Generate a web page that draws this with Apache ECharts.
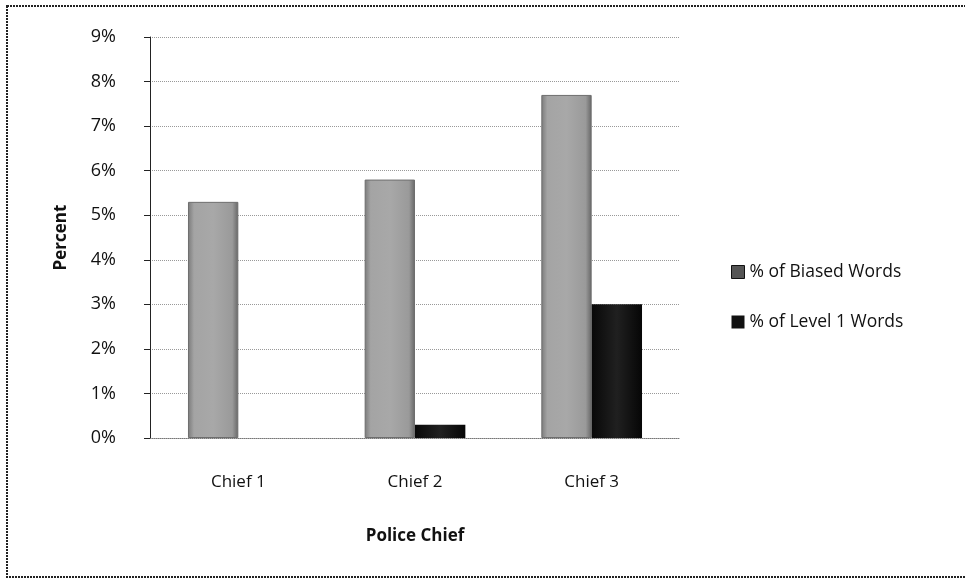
<!DOCTYPE html>
<html>
<head>
<meta charset="utf-8">
<script src="https://cdn.jsdelivr.net/npm/echarts@6/dist/echarts.min.js"></script>
<style>
html,body{margin:0;padding:0;background:#fff;}
#chart{width:965px;height:579px;}
</style>
</head>
<body>
<div id="chart"></div>
<script>
// Chart data
const categories = ['Chief 1', 'Chief 2', 'Chief 3'];
const biasedWords = [5.3, 5.8, 7.7];
const level1Words = [0, 0.3, 3.0];
const seriesNames = ['% of Biased Words', '% of Level 1 Words'];
const yTicks = [0, 1, 2, 3, 4, 5, 6, 7, 8, 9];

const FONT = 'Open Sans';

const grayFill = new echarts.graphic.LinearGradient(0, 0, 1, 0, [
  { offset: 0, color: '#7a7a7a' },
  { offset: 0.12, color: '#a4a4a4' },
  { offset: 0.5, color: '#a8a8a8' },
  { offset: 0.88, color: '#9a9a9a' },
  { offset: 1, color: '#666' }
]);
const darkFill = new echarts.graphic.LinearGradient(0, 0, 1, 0, [
  { offset: 0, color: '#080808' },
  { offset: 0.5, color: '#202020' },
  { offset: 1, color: '#060606' }
]);

const chart = echarts.init(document.getElementById('chart'), null, { renderer: 'canvas' });
chart.setOption({
  backgroundColor: '#fff',
  animation: false,
  textStyle: { fontFamily: FONT },
  graphic: [{
    type: 'rect',
    shape: { x: 7, y: 6, width: 975, height: 571 },
    style: { fill: 'none', stroke: '#222', lineWidth: 2, lineDash: [2, 1] },
    silent: true
  }],
  grid: { left: 150, right: 285, top: 37, bottom: 141 },
  legend: {
    orient: 'vertical',
    left: 726,
    top: 258,
    itemGap: 32,
    itemWidth: 13,
    itemHeight: 13,
    icon: 'rect',
    textStyle: { fontFamily: FONT, fontSize: 17.5, color: '#111' },
    data: [
      { name: seriesNames[0], itemStyle: { color: '#555', borderColor: '#111', borderWidth: 1 } },
      { name: seriesNames[1], itemStyle: { color: '#111' } }
    ]
  },
  xAxis: {
    type: 'category',
    data: categories,
    name: 'Police Chief',
    nameLocation: 'middle',
    nameGap: 90,
    nameTextStyle: { fontFamily: FONT, fontSize: 17, fontWeight: 'bold', color: '#111' },
    axisLine: { lineStyle: { color: '#777', type: 'dotted' } },
    axisTick: { show: false },
    axisLabel: { fontFamily: FONT, fontSize: 17, color: '#111', margin: 36 }
  },
  yAxis: {
    type: 'value',
    min: 0,
    max: 9,
    interval: 1,
    name: 'Percent',
    nameLocation: 'middle',
    nameGap: 80,
    nameTextStyle: { fontFamily: FONT, fontSize: 17, fontWeight: 'bold', color: '#111' },
    axisLine: { show: true, lineStyle: { color: '#222', width: 1 } },
    axisTick: { show: true, length: 6, inside: false, lineStyle: { color: '#222' } },
    axisLabel: {
      fontFamily: FONT, fontSize: 18, color: '#111', margin: 34,
      formatter: v => (yTicks.includes(v) ? v + '%' : '')
    },
    splitLine: { show: true, lineStyle: { color: '#999', type: 'dotted' } }
  },
  series: [
    {
      name: seriesNames[0],
      type: 'bar',
      data: biasedWords,
      barGap: '0%',
      barCategoryGap: '43%',
      itemStyle: { color: grayFill, borderColor: '#6e6e6e', borderWidth: 1 }
    },
    {
      name: seriesNames[1],
      type: 'bar',
      data: level1Words,
      itemStyle: { color: darkFill, borderWidth: 0 }
    }
  ]
});
</script>
</body>
</html>
